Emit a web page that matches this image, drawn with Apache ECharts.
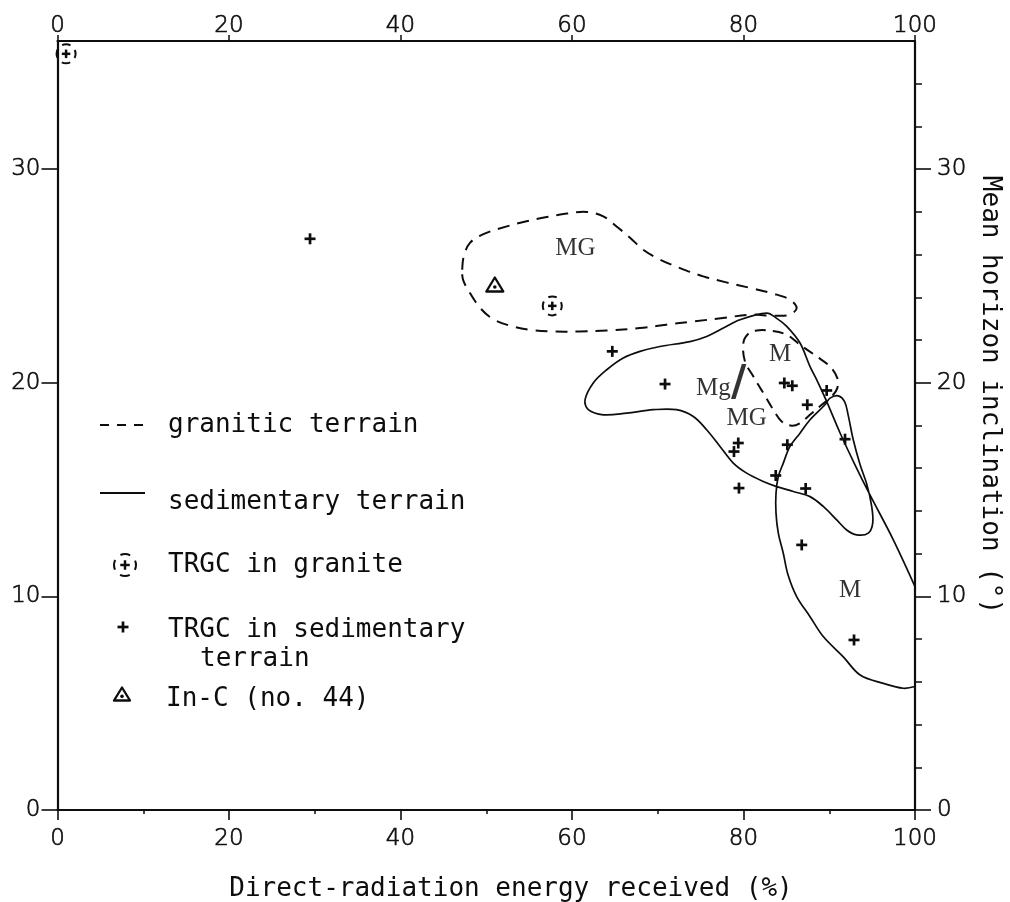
<!DOCTYPE html>
<html>
<head>
<meta charset="utf-8">
<script src="https://cdn.jsdelivr.net/npm/echarts@6/dist/echarts.min.js"></script>
<style>
  html, body { margin: 0; padding: 0; background: #fff; }
  #chart { width: 1010px; height: 902px; }
</style>
</head>
<body>
<div id="chart"></div>
<script>
// Axis ticks
const xTickValues = [0, 20, 40, 60, 80, 100];
const yTickValues = [0, 10, 20, 30];

// TRGC sites: [direct-radiation energy (%), mean horizon inclination (deg)]
const sedimentaryTRGC = [
  [29.45, 26.74], [64.7, 21.47], [70.85, 19.94], [84.76, 19.99], [85.69, 19.86],
  [87.44, 18.97], [89.7, 19.64], [79.39, 17.18], [78.89, 16.78], [85.11, 17.1],
  [91.84, 17.36], [83.76, 15.66], [79.47, 15.07], [87.25, 15.05], [86.79, 12.41],
  [92.89, 7.96]
];
const graniteTRGC = [[1.0, 35.4], [57.7, 23.6]];
const inC44 = [[51.0, 24.6]];

// Granitic terrain, MG field (closed, dashed)
const graniticMG = [
  [47.2, 25.29], [47.4, 25.95], [48.1, 26.55], [49.6, 26.95], [52.4, 27.32],
  [54.7, 27.56], [57.05, 27.76], [59.4, 27.92], [61.7, 28.0], [63.65, 27.79],
  [65.2, 27.32], [66.8, 26.78], [68.3, 26.23], [70.3, 25.76], [72.6, 25.37],
  [75.3, 24.98], [78.0, 24.7], [80.8, 24.44], [83.5, 24.17], [85.4, 23.89],
  [86.2, 23.5], [85.4, 23.19], [83.5, 23.14], [80.8, 23.19], [77.6, 23.03],
  [74.1, 22.87], [71.0, 22.72], [67.9, 22.56], [64.05, 22.45], [60.9, 22.4],
  [57.8, 22.4], [55.1, 22.48], [52.8, 22.67], [50.8, 22.98], [49.3, 23.5],
  [48.1, 24.2], [47.3, 24.82]
];

// Granitic terrain, M field (closed, dashed)
const graniticM = [
  [79.98, 21.86], [80.56, 22.3], [81.54, 22.45], [83.09, 22.44], [85.04, 22.25],
  [86.59, 21.78], [88.54, 21.23], [90.09, 20.76], [90.94, 20.22], [90.94, 19.75],
  [90.29, 19.36], [89.12, 18.97], [87.75, 18.5], [86.59, 18.11], [85.62, 17.99],
  [84.45, 18.19], [83.47, 18.74], [82.31, 19.52], [81.14, 20.3], [80.17, 21.0]
];

// Sedimentary terrain outline (Mg/MG and M fields), cut by the 100 % edge
const sedimentaryOutline = [
  [100, 10.46], [97.47, 12.65], [94.75, 14.75], [93.0, 16.16], [91.25, 17.66],
  [89.62, 19.2], [88.54, 20.14], [87.76, 20.76], [86.59, 21.86], [85.04, 22.64],
  [83.79, 23.04], [82.7, 23.26], [79.59, 22.95], [77.65, 22.56], [75.7, 22.17],
  [73.76, 21.93], [70.26, 21.7], [67.93, 21.47], [65.98, 21.16], [64.05, 20.61],
  [62.48, 19.99], [61.52, 19.2], [61.9, 18.74], [63.65, 18.5], [66.38, 18.58],
  [69.48, 18.74], [72.2, 18.74], [74.15, 18.42], [75.7, 17.8], [77.26, 17.02],
  [78.81, 16.24], [80.37, 15.77], [82.31, 15.38], [83.87, 15.14], [85.81, 14.91],
  [87.76, 14.67], [89.3, 14.21], [90.87, 13.58], [92.03, 13.11], [93.2, 12.88],
  [94.55, 12.96], [95.07, 13.43], [94.95, 14.21], [94.4, 15.22], [93.6, 16.16],
  [92.8, 17.33], [92.2, 18.5], [91.8, 19.11], [91.05, 19.39], [90.09, 19.28],
  [89.5, 18.97], [87.76, 18.27], [86.59, 17.64], [85.42, 17.02], [84.64, 16.24],
  [84.06, 15.61], [83.79, 14.83], [83.79, 13.9], [84.06, 12.96], [84.64, 12.02],
  [85.19, 11.01], [86.2, 9.99], [87.76, 9.05], [89.3, 8.12], [91.64, 7.17],
  [93.6, 6.32], [96.3, 5.93], [98.63, 5.7], [100, 5.78]
];

// Field labels
const fieldLabelText = ['MG', 'M', 'Mg', '/', 'MG', 'M'];
const fieldLabelAt = [[60.4, 26.3], [84.26, 21.31], [76.5, 19.75], [79.45, 19.95], [80.37, 18.35], [92.42, 10.3]];

const INK = '#0d0d0d';
const monoFont = '26px "DejaVu Sans Mono"';
const tickFont = {
  fontFamily: 'DejaVu Sans', fontWeight: 200, fontSize: 23, color: '#111',
  textBorderColor: '#111', textBorderWidth: 0.7
};

function crossBars(arm, t) {
  return [
    { type: 'rect', shape: { x: -arm / 2, y: -t / 2, width: arm, height: t }, style: { fill: INK } },
    { type: 'rect', shape: { x: -t / 2, y: -arm / 2, width: t, height: arm }, style: { fill: INK } }
  ];
}
function circledPlus(cx, cy, r, arm) {
  const circ = 2 * Math.PI * r;
  const dash = circ / 4 * 0.58;
  return {
    type: 'group', x: cx, y: cy,
    children: [
      { type: 'circle', shape: { cx: 0, cy: 0, r: r },
        style: { fill: 'none', stroke: INK, lineWidth: 2, lineDash: [dash, circ / 4 - dash], lineDashOffset: dash / 2 } }
    ].concat(crossBars(arm, 2.5))
  };
}
function plusMark(cx, cy, arm) {
  return { type: 'group', x: cx, y: cy, children: crossBars(arm, 2.7) };
}
function dottedTriangle(cx, cy, w, h) {
  return {
    type: 'group', x: cx, y: cy,
    children: [
      { type: 'polygon', shape: { points: [[-w / 2, h / 2], [w / 2, h / 2], [0, -h / 2]] },
        style: { fill: 'none', stroke: INK, lineWidth: 2.3, lineJoin: 'round' } },
      { type: 'circle', shape: { cx: 0, cy: h * 0.18, r: 1.8 }, style: { fill: INK } }
    ]
  };
}

function outlineSeries(points, closed, dash, width) {
  return {
    type: 'custom',
    coordinateSystem: 'cartesian2d',
    data: points,
    encode: { x: 0, y: 1 },
    silent: true,
    renderItem: function (params, api) {
      if (params.dataIndex !== 0) return;
      const pts = points.map(function (p) { return api.coord(p); });
      return {
        type: closed ? 'polygon' : 'polyline',
        shape: { points: pts, smooth: 0.35 },
        style: { fill: 'none', stroke: INK, lineWidth: width, lineDash: dash, lineJoin: 'round' }
      };
    }
  };
}

function markerSeries(points, draw) {
  return {
    type: 'custom',
    coordinateSystem: 'cartesian2d',
    data: points,
    encode: { x: 0, y: 1 },
    silent: true,
    renderItem: function (params, api) {
      const p = api.coord([api.value(0), api.value(1)]);
      return draw(p[0], p[1]);
    }
  };
}

function axisCommon() {
  return {
    type: 'value',
    axisLine: { show: true, onZero: false, lineStyle: { color: INK, width: 2.2 } },
    splitLine: { show: false },
    axisLabel: Object.assign({}, tickFont)
  };
}

const xBottom = Object.assign(axisCommon(), {
  position: 'bottom', min: 0, max: 100, interval: 20,
  axisTick: { show: true, length: 10, lineStyle: { color: INK, width: 1.6 } },
  minorTick: { show: true, splitNumber: 2, length: 4, lineStyle: { color: INK, width: 1.5 } }
});
xBottom.axisLabel.margin = 18;

const xTop = Object.assign(axisCommon(), {
  position: 'top', min: 0, max: 100, interval: 20,
  axisTick: { show: true, length: 6, lineStyle: { color: INK, width: 1.5 } }
});
xTop.axisLabel.margin = 3;

const yLeft = Object.assign(axisCommon(), {
  position: 'left', min: 0, max: 36, interval: 10,
  axisTick: { show: true, length: 16, customValues: yTickValues, lineStyle: { color: INK, width: 1.6 } }
});
yLeft.axisLabel.margin = 17;
yLeft.axisLabel.customValues = yTickValues;

const yRight = Object.assign(axisCommon(), {
  position: 'right', min: 0, max: 36, interval: 10,
  axisTick: { show: true, length: 16, customValues: yTickValues, lineStyle: { color: INK, width: 1.6 } },
  minorTick: { show: true, splitNumber: 5, length: 7, lineStyle: { color: INK, width: 1.5 } }
});
yRight.axisLabel.margin = 22;
yRight.axisLabel.customValues = yTickValues;

const fieldLabels = fieldLabelText.map(function (t, i) {
  const item = { name: t, value: fieldLabelAt[i] };
  if (t === '/') item.label = { fontSize: 42, fontFamily: 'DejaVu Sans', fontWeight: 'bold' };
  return item;
});

const chart = echarts.init(document.getElementById('chart'), null, { renderer: 'canvas' });
chart.setOption({
  animation: false,
  backgroundColor: '#ffffff',
  grid: { left: 57.5, right: 95, top: 41, bottom: 92, containLabel: false, outerBoundsMode: 'none' },
  xAxis: [xBottom, xTop],
  yAxis: [yLeft, yRight],
  series: [
    outlineSeries(graniticMG, true, [12, 8], 2),
    outlineSeries(graniticM, true, [11, 7], 2),
    outlineSeries(sedimentaryOutline, false, null, 1.7),
    markerSeries(sedimentaryTRGC, function (x, y) { return plusMark(x, y, 11); }),
    markerSeries(graniteTRGC, function (x, y) { return circledPlus(x, y, 9.5, 8.5); }),
    markerSeries(inC44, function (x, y) { return dottedTriangle(x, y, 17, 14); }),
    {
      type: 'scatter',
      data: fieldLabels,
      symbolSize: 0,
      silent: true,
      itemStyle: { color: INK },
      label: {
        show: true, position: 'inside', formatter: '{b}',
        fontFamily: 'Liberation Serif', fontSize: 25, color: '#000',
        textBorderWidth: 0, textShadowBlur: 0
      }
    }
  ],
  graphic: [
    // legend
    { type: 'line', shape: { x1: 100, y1: 425, x2: 145, y2: 425 }, style: { stroke: INK, lineWidth: 2, lineDash: [9, 8] } },
    { type: 'text', x: 168, y: 425, style: { text: 'granitic terrain', font: monoFont, fill: INK, align: 'left', verticalAlign: 'middle' } },
    { type: 'line', shape: { x1: 100, y1: 493, x2: 145, y2: 493 }, style: { stroke: INK, lineWidth: 1.8 } },
    { type: 'text', x: 168, y: 502, style: { text: 'sedimentary terrain', font: monoFont, fill: INK, align: 'left', verticalAlign: 'middle' } },
    circledPlus(125, 565, 11, 9.5),
    { type: 'text', x: 168, y: 565, style: { text: 'TRGC in granite', font: monoFont, fill: INK, align: 'left', verticalAlign: 'middle' } },
    plusMark(123, 627, 11),
    { type: 'text', x: 168, y: 630, style: { text: 'TRGC in sedimentary', font: monoFont, fill: INK, align: 'left', verticalAlign: 'middle' } },
    { type: 'text', x: 200, y: 659, style: { text: 'terrain', font: monoFont, fill: INK, align: 'left', verticalAlign: 'middle' } },
    dottedTriangle(122, 694, 16, 13),
    { type: 'text', x: 166, y: 699, style: { text: 'In-C (no. 44)', font: monoFont, fill: INK, align: 'left', verticalAlign: 'middle' } },
    // axis titles
    { type: 'text', x: 511, y: 889, style: { text: 'Direct-radiation energy received (%)', font: monoFont, fill: INK, align: 'center', verticalAlign: 'middle' } },
    { type: 'text', x: 990, y: 395, rotation: -Math.PI / 2, style: { text: 'Mean horizon inclination (°)', font: monoFont, fill: INK, align: 'center', verticalAlign: 'middle' } }
  ]
});
</script>
</body>
</html>
